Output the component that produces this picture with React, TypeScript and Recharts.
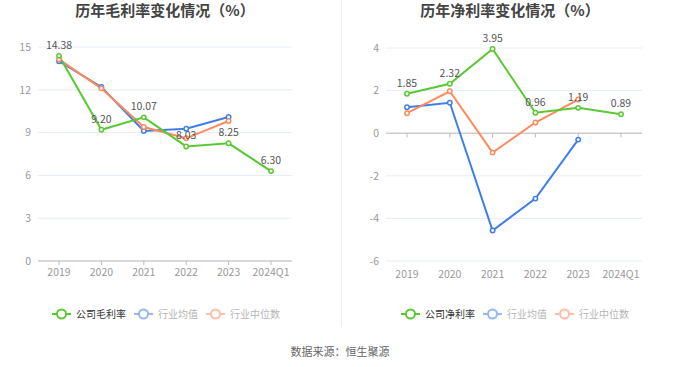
import { LineChart, Line, XAxis, YAxis, CartesianGrid, LabelList, ReferenceLine } from 'recharts';

const years = ['2019', '2020', '2021', '2022', '2023', '2024Q1'];

// 毛利率 (%)
const grossCompany = [14.38, 9.2, 10.07, 8.03, 8.25, 6.3];
const grossAvg = [14.0, 12.2, 9.11, 9.27, 10.09, null];
const grossMedian = [14.13, 12.1, 9.39, 8.6, 9.81, null];
const grossTicks = [0, 3, 6, 9, 12, 15];

// 净利率 (%)
const netCompany = [1.85, 2.32, 3.95, 0.96, 1.19, 0.89];
const netAvg = [1.22, 1.43, -4.57, -3.07, -0.3, null];
const netMedian = [0.94, 1.97, -0.91, 0.5, 1.58, null];
const netTicks = [-6, -4, -2, 0, 2, 4];

const GREEN = '#5ac832';
const BLUE = '#3f7ee8';
const ORANGE = '#fd8a5c';
const FONT = '"Noto Sans CJK SC", "Noto Sans", sans-serif';

const grossData = years.map((y, i) => ({ year: y, company: grossCompany[i], avg: grossAvg[i], median: grossMedian[i] }));
const netData = years.map((y, i) => ({ year: y, company: netCompany[i], avg: netAvg[i], median: netMedian[i] }));

const axisTick = { fill: '#999', fontSize: 10.5, fontFamily: FONT };

function LegendItem({ color, label, faded }: { color: string; label: string; faded?: boolean }) {
  return (
    <span style={{ display: 'inline-flex', alignItems: 'center', marginRight: 8, opacity: faded ? 0.55 : 1 }}>
      <svg width={19} height={12} style={{ marginRight: 5 }}>
        <line x1={0} y1={6} x2={19} y2={6} stroke={color} strokeWidth={2} />
        <circle cx={9.5} cy={6} r={4.5} fill="#fff" stroke={color} strokeWidth={2} />
      </svg>
      <span style={{ color: faded ? '#777' : '#333', fontSize: 10 }}>{label}</span>
    </span>
  );
}

const dot = (color: string) => ({ r: 2.2, fill: '#fff', stroke: color, strokeWidth: 1.5 });

export default function App() {
  return (
    <div style={{ position: 'absolute', left: 0, top: 0, width: 680, height: 367, background: '#fff', fontFamily: FONT, overflow: 'hidden' }}>
      <div style={{ position: 'absolute', left: 0, top: -1, width: 330, textAlign: 'center', fontSize: 15, fontWeight: 'bold', color: '#444' }}>
        历年毛利率变化情况（%）
      </div>
      <div style={{ position: 'absolute', left: 345, top: -1, width: 330, textAlign: 'center', fontSize: 15, fontWeight: 'bold', color: '#444' }}>
        历年净利率变化情况（%）
      </div>
      <div style={{ position: 'absolute', left: 341, top: 0, width: 1, height: 326, background: '#eee' }} />

      <div style={{ position: 'absolute', left: 0, top: 0 }}>
        <LineChart width={340} height={290} data={grossData} margin={{ top: 47, right: 48, left: 0, bottom: 9 }}>
          <CartesianGrid vertical={false} stroke="#e6ecf6" />
          <XAxis dataKey="year" tick={axisTick} height={20} tickMargin={4} stroke="#bbb" tickSize={4} interval={0} padding={{ left: 21, right: 21 }} />
          <YAxis domain={[0, 15]} ticks={grossTicks} width={38} tick={axisTick} axisLine={false} tickLine={false} tickMargin={1} />
          <Line dataKey="avg" stroke={BLUE} strokeWidth={2} dot={dot(BLUE)} isAnimationActive={false} />
          <Line dataKey="median" stroke={ORANGE} strokeWidth={2} dot={dot(ORANGE)} isAnimationActive={false} />
          <Line dataKey="company" stroke={GREEN} strokeWidth={2} dot={dot(GREEN)} isAnimationActive={false}>
            <LabelList dataKey="company" position="top" offset={7} fill="#555" fontSize={10.5} formatter={(v: any) => Number(v).toFixed(2)} />
          </Line>
        </LineChart>
      </div>

      <div style={{ position: 'absolute', left: 340, top: 0 }}>
        <LineChart width={340} height={290} data={netData} margin={{ top: 48, right: 38, left: 0, bottom: 9 }}>
          <CartesianGrid vertical={false} stroke="#e6ecf6" />
          <XAxis dataKey="year" tick={axisTick} height={20} tickMargin={4} axisLine={false} tickLine={false} interval={0} padding={{ left: 21, right: 21 }} />
          <YAxis domain={[-6, 4]} ticks={netTicks} width={46} tick={axisTick} axisLine={false} tickLine={false} tickMargin={1} />
          <ReferenceLine y={0} stroke="#bbb" />
          {years.map((y) => (
            <ReferenceLine key={y} segment={[{ x: y, y: 0 }, { x: y, y: -0.2 }]} stroke="#bbb" />
          ))}
          <Line dataKey="avg" stroke={BLUE} strokeWidth={2} dot={dot(BLUE)} isAnimationActive={false} />
          <Line dataKey="median" stroke={ORANGE} strokeWidth={2} dot={dot(ORANGE)} isAnimationActive={false} />
          <Line dataKey="company" stroke={GREEN} strokeWidth={2} dot={dot(GREEN)} isAnimationActive={false}>
            <LabelList dataKey="company" position="top" offset={7} fill="#555" fontSize={10.5} formatter={(v: any) => Number(v).toFixed(2)} />
          </Line>
        </LineChart>
      </div>

      <div style={{ position: 'absolute', left: 0, top: 306, width: 340, display: 'flex', justifyContent: 'center' }}>
        <LegendItem color={GREEN} label="公司毛利率" />
        <LegendItem color={BLUE} label="行业均值" faded />
        <LegendItem color={ORANGE} label="行业中位数" faded />
      </div>
      <div style={{ position: 'absolute', left: 349, top: 306, width: 340, display: 'flex', justifyContent: 'center' }}>
        <LegendItem color={GREEN} label="公司净利率" />
        <LegendItem color={BLUE} label="行业均值" faded />
        <LegendItem color={ORANGE} label="行业中位数" faded />
      </div>

      <div style={{ position: 'absolute', left: 0, top: 343, width: 680, textAlign: 'center', fontSize: 11, color: '#666' }}>
        数据来源：恒生聚源
      </div>
    </div>
  );
}
